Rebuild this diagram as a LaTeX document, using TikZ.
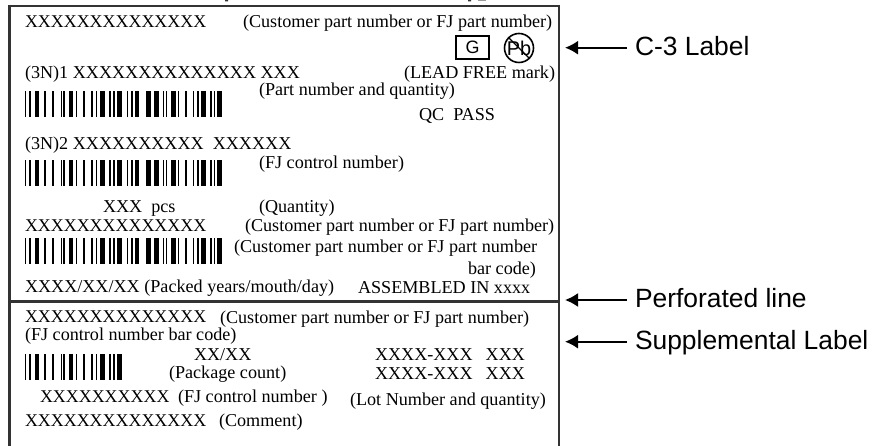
\documentclass[tikz,border=0pt]{standalone}
\usepackage{fontspec}
\setmainfont{Liberation Serif}
\newfontfamily\arialf{Liberation Sans}
\usetikzlibrary{arrows.meta}
\newcommand{\fsz}[1]{\fontsize{#1}{#1}\selectfont}
\newcommand{\barcode}[2]{% y-top, list
  \edef\barlist{#2}%
  \foreach \a/\b in \barlist {\fill[black] (\a,#1) rectangle (\b,#1+26);}}
\newcommand{\barsA}{24.7/26,29/30.7,34.7/39,44.3/45.7,52.3/54.3,60.7/62.3,63.3/64.7,68.7/73.3,76/77.3,83.3/85,91.3/93,95.7/97,100.3/104.7,109.3/110.7,113/114.7,117.3/121.7}
\newcommand{\barsB}{126.7/128.3,131.3/132.7,134.7/139.3,146/150.7,154/158.7,162.7/164,166/167.3,171/175.7,178/179.3,185/186.7,192.7/194,197/198.7,201/205.7,210/211.7,214/215.3,217.3/222}
\tikzset{
  x=1bp,y=-1bp,
  txt/.style={anchor=base west,inner sep=0pt,outer sep=0pt,font=\fsz{18.2}},
  xtxt/.style={txt,font=\fsz{18}},
  side/.style={anchor=west,inner sep=0pt,outer xsep=8bp,outer ysep=0pt,text height=19bp,text depth=4bp,font=\arialf\fsz{26.5}},
  arr/.style={draw=black,line width=1.8pt,-{Latex[length=13bp,width=14bp]}},
  frame/.style={draw=black!80,line width=2.1pt}
}
\begin{document}
\begin{tikzpicture}
\useasboundingbox (0,0) rectangle (879,446);
% frame
\draw[frame] (9.5,446) -- (9.5,6) -- (559,6) -- (559,446);
\draw[frame] (9.5,301.5) -- (559,301.5);
% clipped title remnants
\fill[black!80] (225,0) rectangle (228,1.5) (468,0) rectangle (471,1.5);
\fill[black!40] (478,0) rectangle (486,1.5);
% barcodes
\barcode{91}{\barsA,\barsB}
\barcode{160}{\barsA,\barsB}
\barcode{238}{\barsA,\barsB}
\barcode{354}{\barsA}
% texts
\node[xtxt] (t1) at (25,28) {XXXXXXXXXXXXXX};
\node[txt] (t2) at (243,27.5) {(Customer part number or FJ part number)};
\node[draw=black,line width=1.6pt,inner sep=0pt,minimum width=33bp,minimum height=23bp,font=\arialf\fsz{18}] (g) at (472.5,47.5) {G};
\node[circle,draw=black,line width=1.6pt,inner sep=0pt,minimum size=29bp,font=\arialf\fsz{20}] (pb) at (519,48) {Pb};
\draw[black,line width=1.3pt] (pb.north west) -- (pb.south east);
\node[txt] (t3) at (25,79) {(3N)1 XXXXXXXXXXXXXX XXX};
\node[txt] (t4) at (404,79) {(LEAD FREE mark)};
\node[txt] (t5) at (259,96) {(Part number and quantity)};
\node[txt] (t6) at (419,121) {QC\ \ PASS};
\node[txt] (t7) at (25,150) {(3N)2 XXXXXXXXXX\ \ XXXXXX};
\node[txt] (t8) at (259,169) {(FJ control number)};
\node[txt] (t9) at (103,213) {XXX\ \ pcs};
\node[txt] (t10) at (259,213) {(Quantity)};
\node[xtxt] (t11) at (25,232) {XXXXXXXXXXXXXX};
\node[txt] (t12) at (245,232) {(Customer part number or FJ part number)};
\node[txt] (t13) at (234,253) {(Customer part number or FJ part number};
\node[txt,anchor=base east] (t14) at (536,275) {bar code)};
\node[txt] (t15) at (25,293) {XXXX/XX/XX (Packed years/mouth/day)};
\node[txt] (t16) at (358,294) {ASSEMBLED IN xxxx};
\node[xtxt] (t17) at (25,323) {XXXXXXXXXXXXXX};
\node[txt] (t18) at (220,324) {(Customer part number or FJ part number)};
\node[txt] (t19) at (25,341) {(FJ control number bar code)};
\node[txt] (t20) at (194,361) {XX/XX};
\node[txt] (t21) at (375,361) {XXXX-XXX\hspace{13bp}XXX};
\node[txt] (t22) at (169,379) {(Package count)};
\node[txt] (t23) at (375,380) {XXXX-XXX\hspace{13bp}XXX};
\node[xtxt] (t24) at (40,402) {XXXXXXXXXX};
\node[txt] (t25) at (178,402) {(FJ control number )};
\node[txt] (t26) at (350,405) {(Lot Number and quantity)};
\node[xtxt] (t27) at (25,426) {XXXXXXXXXXXXXX};
\node[txt] (t28) at (219,426) {(Comment)};
% side labels and arrows
\node[side] (c3) at (627,47.7) {C-3 Label};
\node[side] (perf) at (627,300) {Perforated line};
\node[side] (supp) at (627,341.7) {Supplemental Label};
\coordinate (c3tip) at (565,47.7);
\coordinate (perftip) at (565,300);
\coordinate (supptip) at (565,341.7);
\draw[arr] (c3.west) -- (c3tip);
\draw[arr] (perf.west) -- (perftip);
\draw[arr] (supp.west) -- (supptip);
\end{tikzpicture}
\end{document}
